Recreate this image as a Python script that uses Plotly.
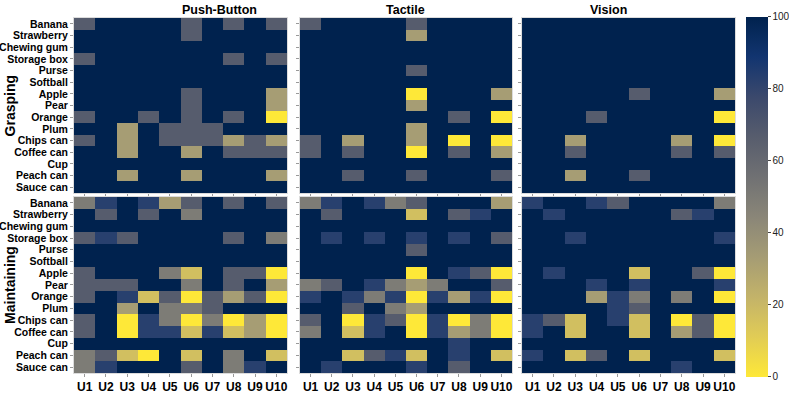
import plotly.graph_objects as go
from plotly.subplots import make_subplots

users = ["U1", "U2", "U3", "U4", "U5", "U6", "U7", "U8", "U9", "U10"]
objects = ["Banana", "Strawberry", "Chewing gum", "Storage box", "Purse", "Softball",
           "Apple", "Pear", "Orange", "Plum", "Chips can", "Coffee can", "Cup",
           "Peach can", "Sauce can"]
modes = ["Push-Button", "Tactile", "Vision"]
phases = ["Grasping", "Maintaining"]

# success rate (%) per object (rows) and user (columns)
grasp_push = [
    [67, 100, 100, 100, 100, 67, 100, 67, 100, 67],
    [100, 100, 100, 100, 100, 67, 100, 100, 100, 100],
    [100, 100, 100, 100, 100, 100, 100, 100, 100, 100],
    [67, 100, 100, 100, 100, 100, 100, 67, 100, 67],
    [100, 100, 100, 100, 100, 100, 100, 100, 100, 100],
    [100, 100, 100, 100, 100, 100, 100, 100, 100, 100],
    [100, 100, 100, 100, 100, 67, 100, 100, 100, 33],
    [100, 100, 100, 100, 100, 67, 100, 100, 100, 33],
    [67, 100, 100, 67, 100, 67, 100, 67, 100, 0],
    [100, 100, 33, 100, 67, 67, 67, 100, 100, 100],
    [67, 100, 33, 100, 67, 67, 67, 33, 67, 33],
    [100, 100, 33, 100, 100, 33, 100, 67, 67, 67],
    [100, 100, 100, 100, 100, 100, 100, 100, 100, 100],
    [100, 100, 33, 100, 100, 33, 100, 100, 100, 33],
    [100, 100, 100, 100, 100, 100, 100, 100, 100, 100],
]
grasp_tactile = [
    [67, 100, 100, 100, 100, 67, 100, 100, 100, 100],
    [100, 100, 100, 100, 100, 33, 100, 100, 100, 100],
    [100, 100, 100, 100, 100, 100, 100, 100, 100, 100],
    [100, 100, 100, 100, 100, 100, 100, 100, 100, 100],
    [100, 100, 100, 100, 100, 67, 100, 100, 100, 100],
    [100, 100, 100, 100, 100, 100, 100, 100, 100, 100],
    [100, 100, 100, 100, 100, 0, 100, 100, 100, 33],
    [100, 100, 100, 100, 100, 33, 100, 100, 100, 100],
    [100, 100, 100, 100, 100, 100, 100, 67, 100, 0],
    [100, 100, 100, 100, 100, 33, 100, 100, 100, 100],
    [67, 100, 33, 100, 100, 33, 100, 0, 100, 0],
    [67, 100, 67, 100, 100, 0, 100, 67, 100, 33],
    [100, 100, 100, 100, 100, 100, 100, 100, 100, 100],
    [100, 100, 67, 100, 100, 67, 100, 100, 100, 67],
    [100, 100, 100, 100, 100, 100, 100, 100, 100, 100],
]
grasp_vision = [
    [100, 100, 100, 100, 100, 100, 100, 100, 100, 100],
    [100, 100, 100, 100, 100, 100, 100, 100, 100, 100],
    [100, 100, 100, 100, 100, 100, 100, 100, 100, 100],
    [100, 100, 100, 100, 100, 100, 100, 100, 100, 100],
    [100, 100, 100, 100, 100, 100, 100, 100, 100, 100],
    [100, 100, 100, 100, 100, 100, 100, 100, 100, 100],
    [100, 100, 100, 100, 100, 67, 100, 100, 100, 33],
    [100, 100, 100, 100, 100, 100, 100, 100, 100, 100],
    [100, 100, 100, 67, 100, 100, 100, 100, 100, 0],
    [100, 100, 100, 100, 100, 100, 100, 100, 100, 100],
    [100, 100, 33, 100, 100, 100, 100, 33, 100, 0],
    [100, 100, 67, 100, 100, 100, 100, 67, 100, 67],
    [100, 100, 100, 100, 100, 100, 100, 100, 100, 100],
    [100, 100, 33, 100, 100, 67, 100, 100, 100, 100],
    [100, 100, 100, 100, 100, 100, 100, 100, 100, 100],
]
maintain_push = [
    [50, 83, 100, 83, 33, 67, 100, 67, 100, 67],
    [100, 67, 100, 67, 100, 50, 100, 100, 100, 100],
    [100, 100, 100, 100, 100, 100, 100, 100, 100, 100],
    [67, 83, 67, 100, 100, 100, 100, 67, 100, 50],
    [100, 100, 100, 100, 100, 100, 100, 100, 100, 100],
    [100, 100, 100, 100, 100, 100, 100, 100, 100, 100],
    [67, 100, 100, 100, 50, 17, 100, 67, 67, 0],
    [67, 67, 67, 100, 100, 50, 100, 67, 100, 33],
    [67, 100, 83, 17, 67, 0, 67, 33, 67, 0],
    [100, 100, 33, 100, 50, 50, 67, 100, 100, 100],
    [67, 100, 0, 83, 50, 0, 50, 0, 33, 0],
    [67, 100, 0, 83, 83, 17, 83, 17, 33, 0],
    [100, 100, 100, 100, 100, 100, 100, 100, 100, 100],
    [50, 67, 17, 0, 100, 17, 100, 50, 100, 17],
    [50, 83, 100, 100, 100, 67, 100, 50, 83, 100],
]
maintain_tactile = [
    [50, 83, 100, 83, 50, 67, 100, 100, 100, 33],
    [100, 67, 100, 100, 100, 17, 100, 67, 83, 100],
    [100, 100, 100, 100, 100, 100, 100, 100, 100, 100],
    [100, 83, 100, 83, 100, 83, 100, 83, 100, 67],
    [100, 100, 100, 100, 100, 67, 100, 100, 100, 100],
    [100, 100, 100, 100, 100, 100, 100, 100, 100, 100],
    [100, 100, 100, 100, 100, 0, 100, 83, 67, 0],
    [50, 67, 100, 83, 50, 33, 50, 100, 100, 67],
    [83, 100, 83, 50, 83, 0, 83, 33, 83, 0],
    [100, 100, 67, 100, 50, 33, 100, 100, 100, 100],
    [67, 100, 0, 83, 67, 0, 83, 0, 50, 0],
    [50, 100, 17, 83, 100, 0, 83, 33, 50, 0],
    [100, 100, 100, 100, 100, 100, 100, 83, 100, 100],
    [100, 100, 17, 67, 83, 17, 100, 83, 100, 17],
    [100, 83, 100, 100, 100, 83, 100, 67, 100, 100],
]
maintain_vision = [
    [83, 100, 100, 83, 67, 100, 100, 100, 100, 50],
    [100, 83, 100, 100, 100, 100, 100, 67, 83, 100],
    [100, 100, 100, 100, 100, 100, 100, 100, 100, 100],
    [100, 100, 83, 100, 100, 100, 100, 100, 100, 83],
    [100, 100, 100, 100, 100, 100, 100, 100, 100, 100],
    [100, 100, 100, 100, 100, 100, 100, 100, 100, 100],
    [100, 83, 100, 100, 100, 17, 100, 100, 67, 0],
    [100, 100, 100, 83, 100, 83, 100, 100, 100, 83],
    [100, 100, 100, 33, 83, 50, 100, 50, 100, 0],
    [100, 100, 100, 100, 83, 67, 100, 100, 100, 100],
    [83, 67, 17, 100, 83, 17, 100, 0, 67, 0],
    [83, 100, 17, 100, 100, 17, 100, 33, 67, 0],
    [100, 100, 100, 100, 100, 100, 100, 100, 100, 100],
    [83, 100, 17, 67, 100, 17, 100, 100, 100, 17],
    [100, 100, 100, 100, 100, 100, 100, 83, 100, 100],
]

panels = [
    [grasp_push, grasp_tactile, grasp_vision],
    [maintain_push, maintain_tactile, maintain_vision],
]

FONT = "Liberation Sans, Arial"

fig = make_subplots(rows=2, cols=3, shared_xaxes=True, shared_yaxes=True)

for r in range(2):
    for c in range(3):
        fig.add_trace(
            go.Heatmap(
                z=panels[r][c],
                x=users,
                y=objects,
                colorscale="cividis_r",
                zmin=0,
                zmax=100,
                showscale=(r == 0 and c == 0),
                colorbar=dict(
                    x=1.0167, xanchor="left", xpad=0,
                    y=0.4958, yanchor="middle", ypad=0,
                    len=360, lenmode="pixels", thickness=22,
                    tickvals=[0, 20, 40, 60, 80, 100],
                    ticks="outside", ticklen=3, outlinewidth=0,
                    tickfont=dict(size=10, color="#222", family=FONT),
                ),
            ),
            row=r + 1, col=c + 1,
        )

# panel positions (paper fractions)
x_domains = [[0, 0.3222], [0.3419, 0.6626], [0.6778, 1.0]]
y_domains = [[0.507, 1.0], [0, 0.4958]]
for r in range(2):
    for c in range(3):
        fig.update_xaxes(domain=x_domains[c], row=r + 1, col=c + 1)
        fig.update_yaxes(domain=y_domains[r], row=r + 1, col=c + 1)

fig.update_xaxes(
    tickmode="array", tickvals=users, tickangle=0,
    ticks="outside", ticklen=3, tickcolor="#999", showgrid=False,
    showline=True, linecolor="#dcdcdc", mirror=True,
    tickfont=dict(size=12, family=FONT, color="black", weight="bold"),
)
fig.update_yaxes(
    tickmode="array", tickvals=objects,
    ticks="outside", ticklen=3, tickcolor="#999", showgrid=False,
    autorange="reversed",
    showline=True, linecolor="#dcdcdc", mirror=True,
    tickfont=dict(size=10.5, family=FONT, color="black", weight="bold"),
)

for c, name in enumerate(modes):
    mid = sum(x_domains[c]) / 2
    fig.add_annotation(
        x=mid, y=1.0225, xref="paper", yref="paper", text=name,
        showarrow=False, yanchor="middle",
        font=dict(size=12.5, family=FONT, color="black", weight="bold"),
    )

for r, name in enumerate(phases):
    mid = sum(y_domains[r]) / 2
    fig.add_annotation(
        x=-0.097, y=mid, xref="paper", yref="paper", text=name,
        showarrow=False, textangle=-90, xanchor="center", yanchor="middle",
        font=dict(size=14, family=FONT, color="black", weight="bold"),
    )

fig.update_layout(
    width=789,
    height=395,
    margin=dict(l=74, r=54, t=18, b=22, autoexpand=False),
    plot_bgcolor="white",
    paper_bgcolor="white",
)

# drop the default page margin so the figure sits at the window's corner
fig.write_html(
    "out.html",
    config={"displayModeBar": False},
    post_script="document.body.style.margin='0';",
)
